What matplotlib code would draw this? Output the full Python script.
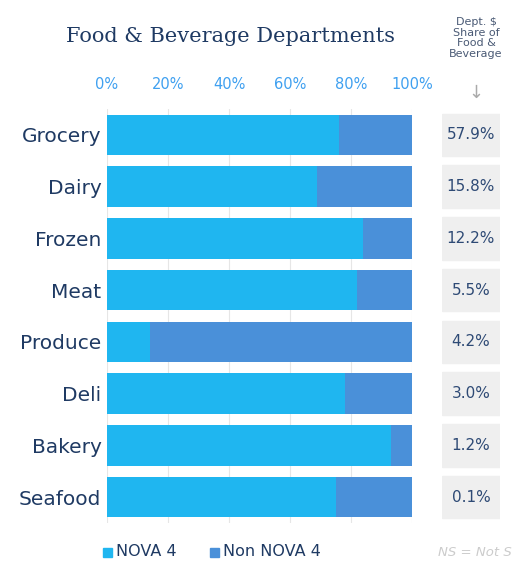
import matplotlib
matplotlib.use("Agg")
import matplotlib.pyplot as plt
from matplotlib.patches import Rectangle

categories = ["Grocery", "Dairy", "Frozen", "Meat", "Produce", "Deli", "Bakery", "Seafood"]
nova4 = [76, 69, 84, 82, 14, 78, 93, 75]
non_nova4 = [100 - v for v in nova4]
share_labels = ["57.9%", "15.8%", "12.2%", "5.5%", "4.2%", "3.0%", "1.2%", "0.1%"]
xticks = [0, 20, 40, 60, 80, 100]

W, H = 526, 572
fig = plt.figure(figsize=(W/100, H/100), dpi=100)
C1, C2 = "#1fb6f0", "#4a90d9"
NAVY = "#1f3a63"

ax = fig.add_axes([107/W, 1-523/H, 305/W, 414/H])
y = list(range(len(categories)))
ax.barh(y, nova4, height=0.78, color=C1, zorder=3)
ax.barh(y, non_nova4, left=nova4, height=0.78, color=C2, zorder=3)
ax.set_ylim(len(categories)-0.5, -0.5)
ax.set_xlim(0, 100)
ax.set_xticks(xticks)
ax.set_xticklabels([f"{v}%" for v in xticks])
ax.xaxis.tick_top()
ax.tick_params(axis="x", length=0, labelsize=10.5, labelcolor="#3fa0f0", pad=12)
ax.set_yticks(y)
ax.set_yticklabels(categories)
ax.tick_params(axis="y", length=0, labelsize=14.5, labelcolor=NAVY, pad=4)
for v in xticks:
    ax.axvline(v, color="#e6e6e6", lw=0.8, zorder=1)
for s in ax.spines.values():
    s.set_visible(False)

ax2 = fig.add_axes([442/W, 1-523/H, 58/W, 414/H], sharey=ax)
ax2.set_xlim(0, 1)
for i, lab in enumerate(share_labels):
    ax2.add_patch(Rectangle((0, i-0.41), 1, 0.82, color="#efefef", zorder=1))
    ax2.text(0.5, i, lab, ha="center", va="center", fontsize=11, color="#2e4a75", zorder=2)
ax2.axis("off")

fig.text(230/W, 1-37/H, "Food & Beverage Departments", ha="center", va="center",
         family="DejaVu Serif", fontsize=15, color=NAVY)
fig.text(476/W, 1-38/H, "Dept. $\nShare of\nFood &\nBeverage", ha="center", va="center",
         fontsize=8, color="#4a5a75", linespacing=1.05)
fig.text(476/W, 1-93/H, "↓", ha="center", va="center", fontsize=13, color="#aaaaaa")

fig.patches.append(Rectangle((103/W, 1-557/H), 9/W, 9/H, color=C1, transform=fig.transFigure))
fig.text(116/W, 1-552/H, "NOVA 4", va="center", fontsize=11.5, color=NAVY)
fig.patches.append(Rectangle((210/W, 1-557/H), 9/W, 9/H, color=C2, transform=fig.transFigure))
fig.text(223/W, 1-552/H, "Non NOVA 4", va="center", fontsize=11.5, color=NAVY)
fig.text(438/W, 1-552/H, "NS = Not S", va="center", fontsize=9.5,
         color="#cccccc", style="italic")

fig.savefig("out.png", dpi=100)
